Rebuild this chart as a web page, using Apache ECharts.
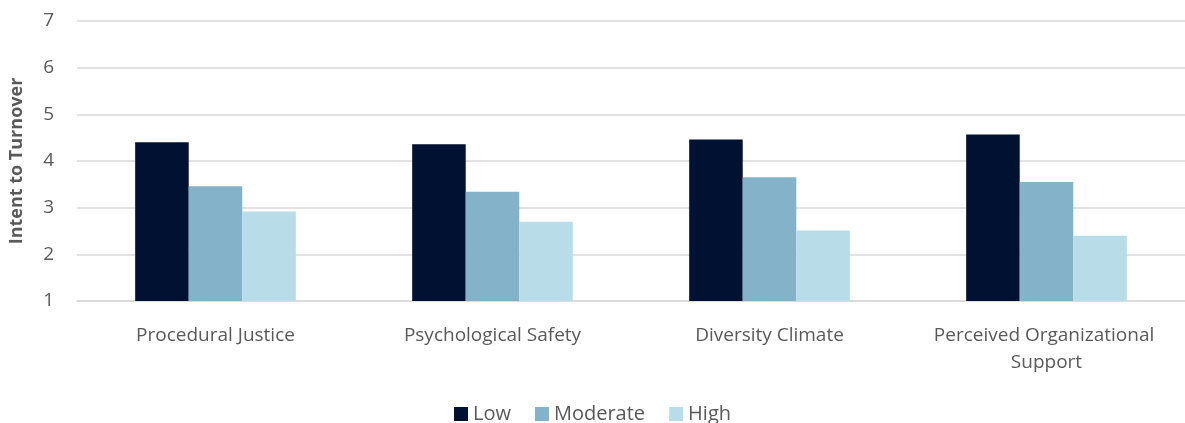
<!DOCTYPE html>
<html>
<head>
<meta charset="utf-8">
<script src="https://cdn.jsdelivr.net/npm/echarts@6/dist/echarts.min.js"></script>
<style>
  html, body { margin: 0; padding: 0; background: #ffffff; }
  #chart { width: 1185px; height: 423px; }
</style>
</head>
<body>
<div id="chart"></div>
<script>
// Categories and mean intent-to-turnover scores by level
const categories = ['Procedural Justice', 'Psychological Safety', 'Diversity Climate', 'Perceived Organizational Support'];
const seriesNames = ['Low', 'Moderate', 'High'];
const lowValues = [4.40, 4.36, 4.46, 4.57];
const moderateValues = [3.46, 3.34, 3.65, 3.55];
const highValues = [2.92, 2.70, 2.51, 2.40];
const yTicks = [1, 2, 3, 4, 5, 6, 7];

const colors = ['#001132', '#84b2c9', '#b8dde8'];
const font = '"Open Sans", "DejaVu Sans", sans-serif';
const textColor = '#595959';

const chart = echarts.init(document.getElementById('chart'), null, { renderer: 'canvas' });

const values = [lowValues, moderateValues, highValues];

chart.setOption({
  animation: false,
  color: colors,
  grid: { left: 75, right: 0, top: 21, bottom: 122 },
  legend: {
    data: seriesNames,
    top: 399,
    left: 'center',
    icon: 'rect',
    itemWidth: 14,
    itemHeight: 14,
    itemGap: 24,
    itemStyle: { borderWidth: 0 },
    textStyle: { fontFamily: font, fontSize: 20, color: textColor }
  },
  xAxis: {
    type: 'category',
    data: categories,
    axisTick: { show: false },
    axisLine: { lineStyle: { color: '#d9d9d9', width: 1.5 } },
    axisLabel: {
      interval: 0,
      fontFamily: font,
      fontSize: 19,
      color: textColor,
      margin: 21,
      width: 260,
      overflow: 'break',
      lineHeight: 27
    }
  },
  yAxis: {
    type: 'value',
    min: yTicks[0],
    max: yTicks[yTicks.length - 1],
    interval: 1,
    name: 'Intent to Turnover',
    nameLocation: 'middle',
    nameGap: 51,
    nameTextStyle: { fontFamily: font, fontSize: 18, fontWeight: 'bold', color: textColor },
    axisLine: { show: false },
    axisTick: { show: false },
    axisLabel: { fontFamily: font, fontSize: 19, color: textColor, margin: 23 },
    splitLine: { lineStyle: { color: '#d9d9d9', width: 1.5 } }
  },
  series: seriesNames.map((name, i) => ({
    name: name,
    type: 'bar',
    data: values[i],
    barGap: '0%',
    barCategoryGap: '42%',
    itemStyle: { color: colors[i] }
  }))
});
</script>
</body>
</html>
